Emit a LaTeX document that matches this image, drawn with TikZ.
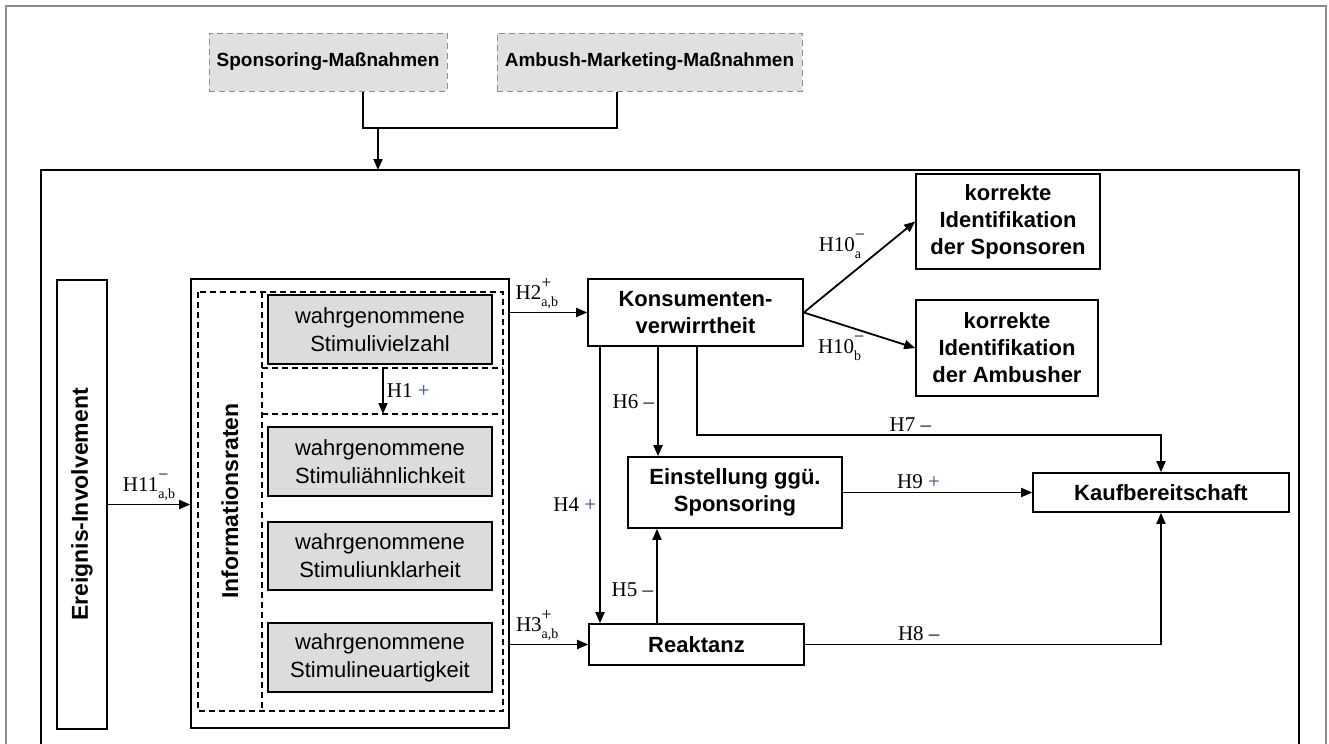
\documentclass[tikz,border=0pt]{standalone}
\usepackage{fontspec}
\setmainfont{Liberation Serif}
\setsansfont{Liberation Sans}
\definecolor{lgray}{HTML}{DCDCDC}
\definecolor{tgray}{HTML}{E0E0E0}
\definecolor{fgray}{HTML}{8C8C8C}
\definecolor{pblue}{HTML}{2F4A80}
\usetikzlibrary{arrows.meta}
\newcommand{\hyp}[3]{#1\rlap{\raisebox{1.2ex}{\fontsize{9}{9}\selectfont #2}}\raisebox{-0.7ex}{\fontsize{7}{7}\selectfont #3}}

\begin{document}
\begin{tikzpicture}[x=0.5pt,y=-0.5pt,
	box/.style={draw, line width=0.8pt, fill=white, align=center, inner sep=0pt,
		font=\sffamily\bfseries\fontsize{11}{13.5}\selectfont},
	stim/.style={draw, line width=0.8pt, fill=lgray, align=center, inner sep=0pt,
		minimum width=112pt, font=\sffamily\fontsize{11}{14}\selectfont},
	topbox/.style={draw=fgray, densely dashed, line width=0.5pt, fill=tgray, inner sep=0pt,
		minimum height=29pt, font=\sffamily\bfseries\fontsize{9.5}{11}\selectfont},
	arr/.style={line width=0.9pt, -{Triangle[length=5.5pt,width=4.5pt]}},
	con/.style={line width=0.9pt},
	hl/.style={font=\fontsize{10.5}{12}\selectfont, inner sep=1.5pt},
	dbox/.style={densely dashed, line width=0.7pt}]
	\useasboundingbox (0,0) rectangle (1329,744);
	% frames
	\draw[fgray, line width=0.9pt] (6,744) |- (1326,6) -- (1326,744);
	\draw[line width=0.7pt] (41,744) |- (1299,170) -- (1299,744);
	% Massnahmen
	\node[topbox, minimum width=119pt] (spons) at (328,62) {Sponsoring-Maßnahmen};
	\node[topbox, minimum width=152.5pt] (ambush) at (649.5,62) {Ambush-Marketing-Maßnahmen};
	\coordinate (join) at (378,128);
	\draw[con] (spons.south -| 363,0) |- (join) -| (ambush.south -| 617,0);
	\draw[arr] (join) -- (join |- 0,170);
	% left column
	\node[box, minimum width=25pt, minimum height=224.5pt,
		font=\sffamily\bfseries\fontsize{11.5}{13}\selectfont] (ereignis) at (82,504.5) {\rotatebox{90}{Ereignis-Involvement}};
	\node[box, minimum width=159pt, minimum height=224.5pt] (inforaten) at (350,503.5) {};
	\draw[dbox] (198,292) rectangle (503,711);
	\draw[dbox] (262,292) -- (262,711) (262,368) -- (503,368) (262,414) -- (503,414);
	\node[font=\sffamily\bfseries\fontsize{11.5}{13}\selectfont] (inftext) at (230,501) {\rotatebox{90}{Informationsraten}};
	\node[stim, minimum height=34.5pt] (vielzahl) at (380,329.5) {wahrgenommene\\Stimulivielzahl};
	\node[stim, minimum height=34.5pt] (aehnlich) at (380,461.5) {wahrgenommene\\Stimuliähnlichkeit};
	\node[stim, minimum height=34pt] (unklar) at (380,556) {wahrgenommene\\Stimuliunklarheit};
	\node[stim, minimum height=34.5pt] (neuartig) at (380,657.5) {wahrgenommene\\Stimulineuartigkeit};
	\coordinate (h1s) at (383,368);
	\coordinate (h1e) at (383,414);
	\draw[arr] (h1s) -- (h1e) node[hl, midway, right] {H1 \textcolor{pblue}{+}};
	% constructs
	\node[box, minimum width=107.5pt, minimum height=33.5pt] (konsum) at (695.5,312.5) {Konsumenten-\\verwirrtheit};
	\node[box, minimum width=107pt, minimum height=35.5pt] (einst) at (735,492.5) {Einstellung ggü.\\Sponsoring};
	\node[box, minimum width=107.5pt, minimum height=20.5pt] (reakt) at (696.5,644.5) {Reaktanz};
	\node[box, minimum width=128pt, minimum height=19.5pt] (kauf) at (1161,492.5) {Kaufbereitschaft};
	\node[box, minimum width=92pt, minimum height=47.5pt] (idspons) at (1008,221.5) {korrekte\\Identifikation\\der Sponsoren};
	\node[box, minimum width=91pt, minimum height=48pt] (idamb) at (1007,348) {korrekte\\Identifikation\\der Ambusher};
	% hypotheses
	\draw[arr] (ereignis.east) -- (ereignis.east -| inforaten.west) node[hl, midway, above] {\hyp{H11}{−}{a,b}};
	\draw[arr] (inforaten.east |- konsum.west) -- (konsum.west) node[hl, pos=0.35, above] {\hyp{H2}{+}{a,b}};
	\draw[arr] (inforaten.east |- reakt.west) -- (reakt.west) node[hl, pos=0.35, above] {\hyp{H3}{+}{a,b}};
	\draw[arr] (konsum.east) -- (idspons.west) node[hl, pos=0.55, above left] {\hyp{H10}{−}{a}};
	\draw[arr] (konsum.east) -- (idamb.west) node[hl, pos=0.55, below left] {\hyp{H10}{−}{b}};
	\draw[arr] (konsum.south -| 658,0) -- (einst.north -| 658,0) node[hl, midway, left] {H6 –};
	\coordinate (h7) at (1161,435);
	\draw[arr] (konsum.south -| 697,0) |- (h7) node[hl, pos=0.73, above] {H7 –} -- (kauf.north);
	\draw[arr] (konsum.south -| 600,0) -- (reakt.north -| 600,0) node[hl, pos=0.57, left] {H4 \textcolor{pblue}{+}};
	\draw[arr] (reakt.north -| 657,0) -- (einst.south -| 657,0) node[hl, pos=0.35, left] {H5 –};
	\draw[arr] (einst.east) -- (kauf.west) node[hl, pos=0.4, above] {H9 \textcolor{pblue}{+}};
	\draw[arr] (reakt.east) -| (kauf.south) node[hl, pos=0.16, above] {H8 –};
\end{tikzpicture}
\end{document}
